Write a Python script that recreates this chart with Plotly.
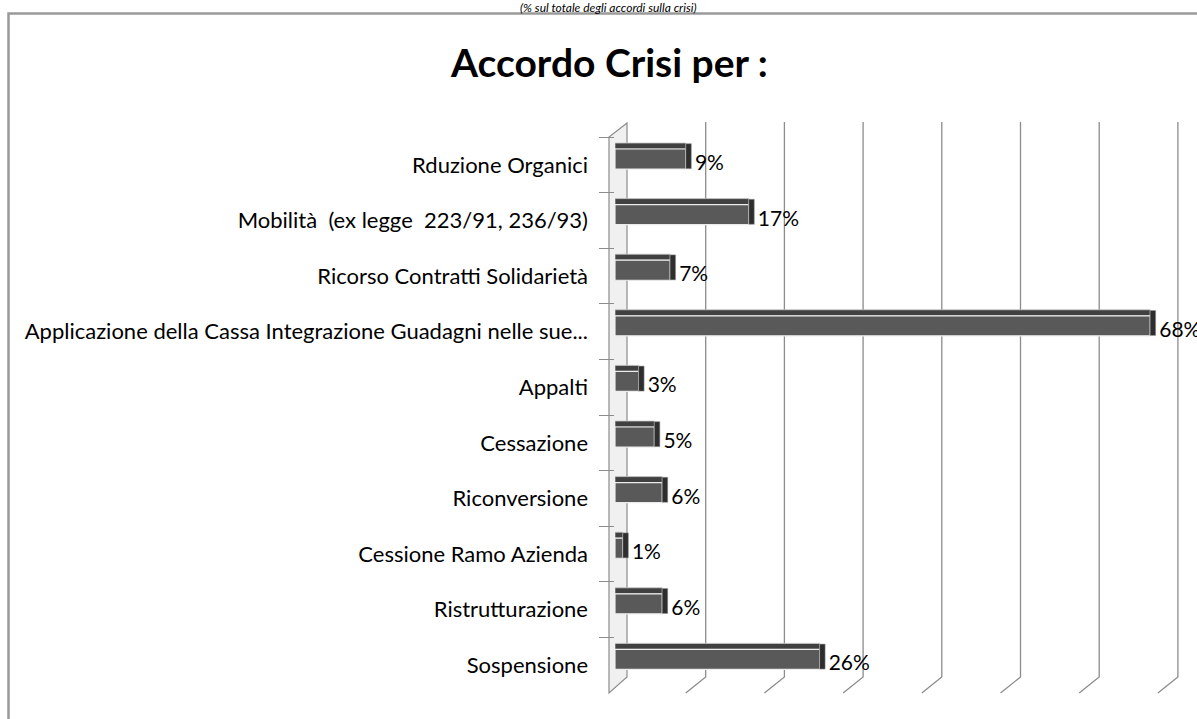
import plotly.graph_objects as go

# ---- data (top to bottom, as in the chart) ----
categories = [
    "Rduzione Organici",
    "Mobilità  (ex legge  223/91, 236/93)",
    "Ricorso Contratti Solidarietà",
    "Applicazione della Cassa Integrazione Guadagni nelle sue...",
    "Appalti",
    "Cessazione",
    "Riconversione",
    "Cessione Ramo Azienda",
    "Ristrutturazione",
    "Sospensione",
]
values = [9, 17, 7, 68, 3, 5, 6, 1, 6, 26]
labels = [f"{v}%" for v in values]
grid_ticks = [10, 20, 30, 40, 50, 60, 70]

title_text = "Accordo Crisi per :"
subtitle_text = "(% sul totale degli accordi sulla crisi)"

# ---- geometry helpers ----
W, H = 1197, 719
L, T, B = 615, 137, 693          # plot area in px
PXU = 7.87                       # px per % unit
XMAX = (W - L) / PXU
PH = B - T

def px_to_paper_x(px):
    return (px - L) / (W - L)

def px_to_paper_y(py):
    return (B - py) / PH

FONT = "Lato"
SIDE = 0.7        # depth of bar end (in % units)
LABEL_GAP = 0.45  # gap between bar end and label (in % units)
DEPTH = 12 / PXU  # back-wall offset in % units
SLANT = 20 / PXU

fig = go.Figure()

# top face of bars
fig.add_trace(go.Bar(
    y=categories, x=values, orientation="h",
    width=0.108, offset=-0.392,
    marker=dict(color="#404040", line=dict(color="#c8c8c8", width=0.8)),
    hoverinfo="skip", showlegend=False,
))
# front face
fig.add_trace(go.Bar(
    y=categories, x=values, orientation="h",
    width=0.36, offset=-0.284,
    marker=dict(color="#595959", line=dict(color="#ececec", width=1.2)),
    showlegend=False,
))
# side end
fig.add_trace(go.Bar(
    y=categories, x=[SIDE] * len(values), base=values, orientation="h",
    width=0.45, offset=-0.38,
    marker=dict(color="#2e2e2e", line=dict(color="#9a9a9a", width=0.5)),
    hoverinfo="skip", showlegend=False,
))
# data labels
fig.add_trace(go.Scatter(
    y=categories, x=[v + SIDE + LABEL_GAP for v in values], mode="text",
    text=labels, textposition="middle right",
    textfont=dict(family=FONT, size=21, color="#000000"),
    cliponaxis=False, hoverinfo="skip", showlegend=False,
))

shapes = []
# chart border
shapes.append(dict(type="rect", xref="paper", yref="paper",
                   x0=px_to_paper_x(8.5), x1=2.0,
                   y0=-1.0, y1=px_to_paper_y(13.5),
                   line=dict(color="#9a9a9a", width=2.5), layer="below"))
# side wall (3D)
wx_front, wx_back = px_to_paper_x(609), px_to_paper_x(627)
shapes.append(dict(
    type="path", xref="paper", yref="paper",
    path=(f"M {wx_front},{px_to_paper_y(693)} L {wx_front},{px_to_paper_y(137)} "
          f"L {wx_back},{px_to_paper_y(123)} L {wx_back},{px_to_paper_y(677)} Z"),
    fillcolor="#f0f0f0", line=dict(color="#8c8c8c", width=1.2), layer="below"))
# gridlines (back wall + floor slant)
for t in grid_ticks:
    xb = t + DEPTH
    shapes.append(dict(
        type="path", xref="x", yref="paper",
        path=(f"M {xb},{px_to_paper_y(122)} L {xb},{px_to_paper_y(677)} "
              f"L {xb - SLANT},{px_to_paper_y(693)}"),
        line=dict(color="#8c8c8c", width=1.3), layer="below"))

annotations = [
    dict(text=title_text, xref="paper", yref="paper",
         x=px_to_paper_x(609), y=px_to_paper_y(62), xanchor="center", yanchor="middle",
         showarrow=False, font=dict(family=FONT, size=39, color="#000000", weight="bold")),
    dict(text=subtitle_text, xref="paper", yref="paper",
         x=px_to_paper_x(608), y=px_to_paper_y(7.5), xanchor="center", yanchor="middle",
         showarrow=False, borderpad=0,
         font=dict(family=FONT, size=12, color="#000000", style="italic")),
]

fig.update_layout(
    width=W, height=H,
    margin=dict(l=L, r=0, t=T, b=H - B, pad=0),
    paper_bgcolor="white", plot_bgcolor="rgba(0,0,0,0)",
    barmode="overlay",
    shapes=shapes, annotations=annotations,
    xaxis=dict(range=[0, XMAX], showgrid=False, zeroline=False,
               showticklabels=False, showline=False, fixedrange=True),
    yaxis=dict(categoryorder="array", categoryarray=categories,
               autorange="reversed", showgrid=False, zeroline=False,
               showline=False, ticks="outside", tickson="boundaries",
               ticklen=15, tickcolor="#8c8c8c", tickwidth=1.2,
               ticklabelstandoff=26,
               tickfont=dict(family=FONT, size=22, color="#000000")),
    font=dict(family=FONT),
)

fig.write_html("out.html", config={"displayModeBar": False},
               post_script="document.body.style.margin='0px';")
